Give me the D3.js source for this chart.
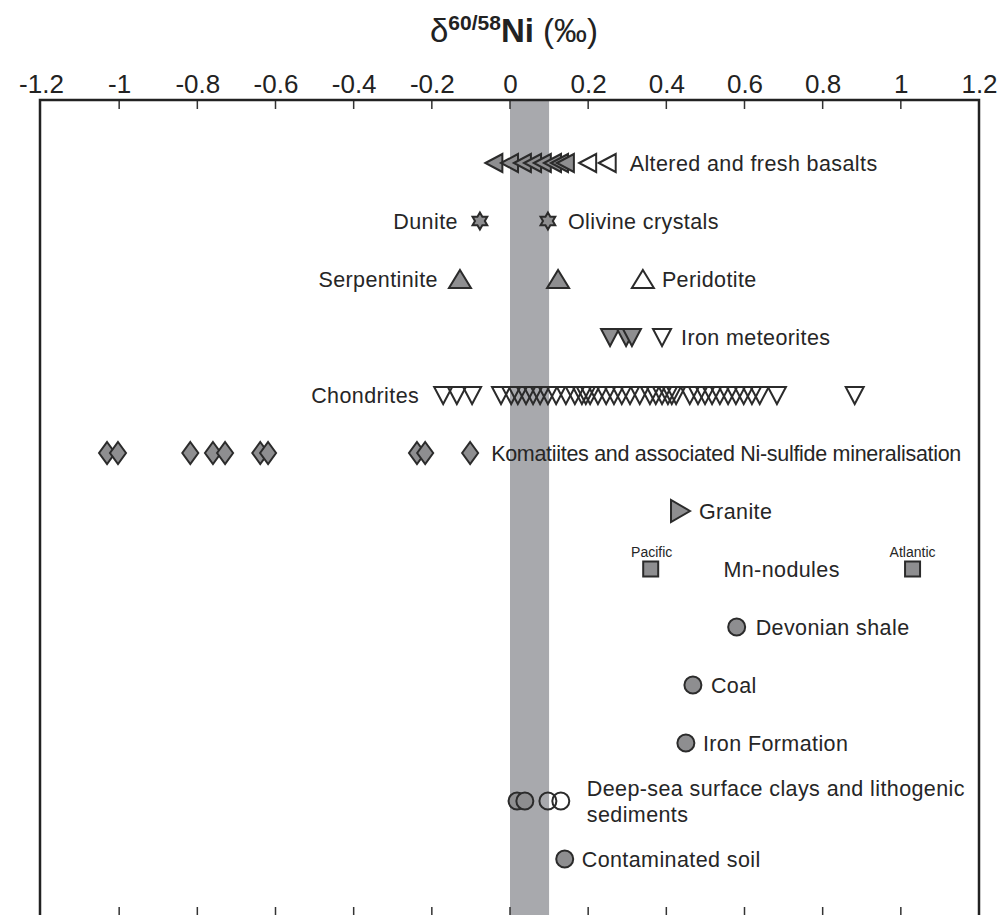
<!DOCTYPE html>
<html><head><meta charset="utf-8">
<script src="https://cdn.jsdelivr.net/npm/d3@7"></script>
<style>body{margin:0;background:#fff} svg{display:block}</style>
</head><body><svg id="c" width="1002" height="915"></svg>
<script>
// ---------- data ----------
const rows = ["basalts","olivine","serpentinite","ironmet","chondrites","komatiites","granite","mn","shale","coal","ironfm","clays","soil"];

const basaltsFilled = [-0.04, 0, 0.033, 0.059, 0.084, 0.11, 0.128, 0.143];
const basaltsOpen = [0.2, 0.25];
const dunite = [-0.077];
const olivine = [0.097];
const serpentinite = [-0.128, 0.123];
const peridotite = [0.34];
const ironMetFilled = [0.256, 0.297, 0.312];
const ironMetOpen = [0.389];
const chondrites = [-0.171, -0.136, -0.097, -0.023, 0.003, 0.02, 0.041, 0.059, 0.077, 0.097, 0.118, 0.143,
  0.166, 0.184, 0.194, 0.205, 0.225, 0.246, 0.266, 0.286, 0.307, 0.332, 0.358, 0.373, 0.389, 0.404, 0.414,
  0.425, 0.46, 0.481, 0.499, 0.517, 0.537, 0.558, 0.578, 0.598, 0.619, 0.639, 0.683, 0.882];
const komatiites = [-1.031, -1.003, -0.818, -0.76, -0.729, -0.639, -0.619, -0.238, -0.217, -0.102];
const granite = [0.435];
const mnPacific = [0.36];
const mnAtlantic = [1.03];
const devonianShale = [0.58];
const coal = [0.468];
const ironFormation = [0.45];
const claysFilled = [0.018, 0.038];
const claysOpen = [0.097, 0.13];
const contaminatedSoil = [0.14];

const xTickValues = [-1.2, -1, -0.8, -0.6, -0.4, -0.2, 0, 0.2, 0.4, 0.6, 0.8, 1, 1.2];
const xTickLabels = ["-1.2", "-1", "-0.8", "-0.6", "-0.4", "-0.2", "0", "0.2", "0.4", "0.6", "0.8", "1", "1.2"];
const bandRange = [0, 0.1];

const series = [
  {values: basaltsFilled, row: "basalts", shape: "left", filled: true},
  {values: basaltsOpen, row: "basalts", shape: "left", filled: false},
  {values: dunite, row: "olivine", shape: "star", filled: true},
  {values: olivine, row: "olivine", shape: "star", filled: true},
  {values: serpentinite, row: "serpentinite", shape: "up", filled: true},
  {values: peridotite, row: "serpentinite", shape: "up", filled: false},
  {values: ironMetFilled, row: "ironmet", shape: "down", filled: true},
  {values: ironMetOpen, row: "ironmet", shape: "down", filled: false},
  {values: chondrites, row: "chondrites", shape: "down", filled: false},
  {values: komatiites, row: "komatiites", shape: "diamond", filled: true},
  {values: granite, row: "granite", shape: "right", filled: true},
  {values: mnPacific, row: "mn", shape: "square", filled: true},
  {values: mnAtlantic, row: "mn", shape: "square", filled: true},
  {values: devonianShale, row: "shale", shape: "circle", filled: true},
  {values: coal, row: "coal", shape: "circle", filled: true},
  {values: ironFormation, row: "ironfm", shape: "circle", filled: true},
  {values: claysFilled, row: "clays", shape: "circle", filled: true},
  {values: claysOpen, row: "clays", shape: "circle", filled: false},
  {values: contaminatedSoil, row: "soil", shape: "circle", filled: true}
];

// labels: anchored to a series (right of its max, or left of its min)
const labels = [
  {text: ["Altered and fresh basalts"], row: "basalts", ref: basaltsOpen, side: "right", gap: 22},
  {text: ["Dunite"], row: "olivine", ref: dunite, side: "left", gap: 22},
  {text: ["Olivine crystals"], row: "olivine", ref: olivine, side: "right", gap: 20},
  {text: ["Serpentinite"], row: "serpentinite", ref: serpentinite, side: "left", gap: 22},
  {text: ["Peridotite"], row: "serpentinite", ref: peridotite, side: "right", gap: 19},
  {text: ["Iron meteorites"], row: "ironmet", ref: ironMetOpen, side: "right", gap: 19},
  {text: ["Chondrites"], row: "chondrites", ref: chondrites, side: "left", gap: 24},
  {text: ["Komatiites and associated Ni-sulfide mineralisation"], row: "komatiites", ref: komatiites, side: "right", gap: 21, spacing: -0.3},
  {text: ["Granite"], row: "granite", ref: granite, side: "right", gap: 19},
  {text: ["Devonian shale"], row: "shale", ref: devonianShale, side: "right", gap: 19},
  {text: ["Coal"], row: "coal", ref: coal, side: "right", gap: 18},
  {text: ["Iron Formation"], row: "ironfm", ref: ironFormation, side: "right", gap: 17},
  {text: ["Deep-sea surface clays and lithogenic", "sediments"], row: "clays", ref: claysOpen, side: "right", gap: 26},
  {text: ["Contaminated soil"], row: "soil", ref: contaminatedSoil, side: "right", gap: 17}
];

// ---------- chart ----------
const svg = d3.select("#c");
const frame = {left: 40, right: 979, top: 100, bottom: 917};
const x = d3.scaleLinear().domain([-1.2, 1.2]).range([41, 979]);
const y = d3.scalePoint().domain(rows).range([163, 859]);

const STROKE = "#2b2b2b", FILL = "#8e8e90";
const numFont = "'Liberation Sans Narrow','Liberation Sans',Arial,sans-serif";
const txtFont = "'Liberation Sans',Arial,Helvetica,sans-serif";

// band
svg.append("rect")
  .attr("x", x(bandRange[0])).attr("y", frame.top)
  .attr("width", x(bandRange[1]) - x(bandRange[0]))
  .attr("height", frame.bottom - frame.top)
  .attr("fill", "#a8a9ad");

// axes (top & bottom, inward ticks)
const topAxis = d3.axisTop(x).tickValues(xTickValues).tickSize(0).tickFormat((d, i) => xTickLabels[i]).tickPadding(7);
const gTop = svg.append("g").attr("transform", `translate(0,${frame.top})`).call(topAxis);
gTop.select(".domain").remove();
gTop.selectAll("text").attr("font-family", numFont).attr("font-size", 26).attr("fill", "#222");

const inner = xTickValues.slice(1, -1);
svg.append("g").selectAll("line").data(inner).join("line")
  .attr("x1", d => x(d)).attr("x2", d => x(d))
  .attr("y1", frame.top).attr("y2", frame.top + 9)
  .attr("stroke", "#333").attr("stroke-width", 1.5);
svg.append("g").selectAll("line").data(inner).join("line")
  .attr("x1", d => x(d)).attr("x2", d => x(d))
  .attr("y1", frame.bottom).attr("y2", frame.bottom - 10)
  .attr("stroke", "#333").attr("stroke-width", 1.5);

// frame
svg.append("rect")
  .attr("x", frame.left).attr("y", frame.top)
  .attr("width", frame.right - frame.left).attr("height", frame.bottom - frame.top)
  .attr("fill", "none").attr("stroke", "#222").attr("stroke-width", 2.5);

// title
const title = svg.append("text").attr("x", 514).attr("y", 42).attr("text-anchor", "middle")
  .attr("font-family", numFont).attr("font-size", 33).attr("fill", "#222");
title.append("tspan").text("δ");
title.append("tspan").attr("font-size", 21).attr("dy", -12).attr("font-weight", "bold").text("60/58");
title.append("tspan").attr("dy", 12).attr("font-weight", "bold").text("Ni");
title.append("tspan").text(" (‰)");

// shapes
function shapePath(name) {
  switch (name) {
    case "left": return "M-9,0L8,-9L8,9Z";
    case "right": return "M10,0L-9,-11L-9,11Z";
    case "up": return "M0,-9L11,9L-11,9Z";
    case "down": return "M-9,-8L9,-8L0,9Z";
    case "diamond": return "M0,-11L8,0L0,11L-8,0Z";
    case "square": return "M-7.5,-7.5H7.5V7.5H-7.5Z";
    case "circle": return d3.arc()({innerRadius: 0, outerRadius: 8.5, startAngle: 0, endAngle: 2 * Math.PI});
    case "star": {
      const R = 8.5, r = R / Math.sqrt(3), pts = [];
      for (let k = 0; k < 12; k++) {
        const a = -Math.PI / 2 + k * Math.PI / 6, rr = k % 2 ? r : R;
        pts.push([rr * Math.cos(a), rr * Math.sin(a)]);
      }
      return "M" + pts.map(p => p.join(",")).join("L") + "Z";
    }
  }
}

const gm = svg.append("g");
series.forEach(s => {
  gm.append("g").selectAll("path").data(s.values).join("path")
    .attr("d", shapePath(s.shape))
    .attr("transform", d => `translate(${x(d)},${y(s.row)})`)
    .attr("fill", s.filled ? FILL : "none")
    .attr("stroke", STROKE).attr("stroke-width", 2).attr("stroke-linejoin", "miter");
});

// labels
const gl = svg.append("g").attr("font-family", txtFont).attr("font-size", 21.5)
  .attr("letter-spacing", 0.4).attr("fill", "#262626");
labels.forEach(l => {
  const px = l.side === "right" ? x(d3.max(l.ref)) + l.gap : x(d3.min(l.ref)) - l.gap;
  const n = l.text.length;
  const t = gl.append("text").attr("x", px).attr("text-anchor", l.side === "right" ? "start" : "end");
  if (l.spacing !== undefined) t.attr("letter-spacing", l.spacing);
  l.text.forEach((line, i) => {
    t.append("tspan").attr("x", px)
      .attr("y", y(l.row) + 7.5 + (i - (n - 1) / 2) * 26)
      .text(line);
  });
});

// Mn-nodules labels
gl.append("text").attr("x", (x(mnPacific[0]) + x(mnAtlantic[0])) / 2).attr("y", y("mn") + 7.5)
  .attr("text-anchor", "middle").text("Mn-nodules");
const small = svg.append("g").attr("font-family", txtFont).attr("font-size", 14).attr("fill", "#262626").attr("text-anchor", "middle");
small.append("text").attr("x", x(mnPacific[0]) + 1).attr("y", y("mn") - 12).text("Pacific");
small.append("text").attr("x", x(mnAtlantic[0])).attr("y", y("mn") - 12).text("Atlantic");
</script></body></html>
